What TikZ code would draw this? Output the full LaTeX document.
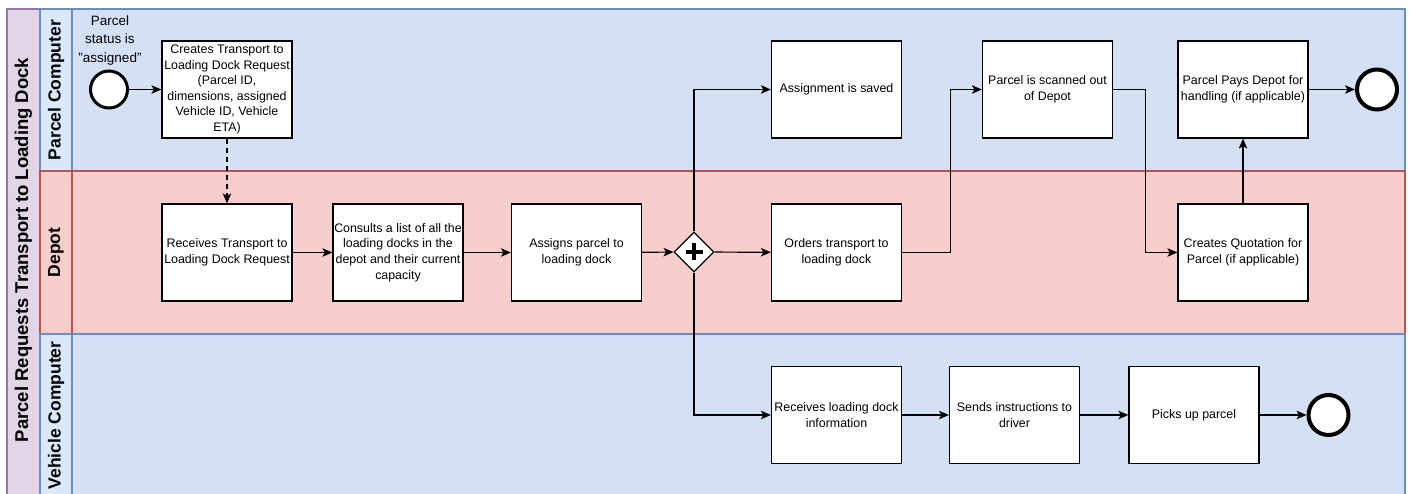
\documentclass[tikz,border=0pt]{standalone}
\usepackage{fontspec}
\setmainfont{Liberation Sans}
\usetikzlibrary{arrows.meta,shapes.geometric}

\definecolor{laneblue}{HTML}{D4E1F5}
\definecolor{laneblueH}{HTML}{DAE8FC}
\definecolor{bluestroke}{HTML}{6C8EBF}
\definecolor{lanered}{HTML}{F8CECC}
\definecolor{redstroke}{HTML}{B85450}
\definecolor{poolfill}{HTML}{E1D5E7}
\definecolor{poolstroke}{HTML}{9673A6}

\tikzset{
  task/.style={draw=black, fill=white, line width=1.2pt, minimum width=130pt,
    minimum height=97pt, inner sep=0pt, align=center,
    font=\fontsize{12.4}{15.6}\selectfont},
  flow/.style={line width=1.2pt, -{Stealth[length=10pt,width=8.5pt,inset=2.5pt]}},
  msgflow/.style={flow, dash pattern=on 5pt off 4pt},
  startev/.style={circle, draw=black, fill=white, line width=3pt, minimum size=37pt, inner sep=0pt},
  endev/.style={circle, draw=black, fill=white, line width=4pt, minimum size=40pt, inner sep=0pt},
  gate/.style={diamond, draw=black, fill=white, line width=1.2pt, minimum width=40pt,
    minimum height=40pt, inner sep=0pt, aspect=1},
  lanelabel/.style={rotate=90, font=\bfseries\fontsize{17.5}{20}\selectfont},
  pooltitle/.style={rotate=90, font=\bfseries\fontsize{18.5}{21}\selectfont},
}

\begin{document}
\begin{tikzpicture}[x=1pt, y=-1pt]
\useasboundingbox (0,0) rectangle (1409,494);
\clip (0,0) rectangle (1409,494);

% pool and lanes
\path[fill=poolfill, draw=poolstroke, line width=1.2pt] (7,9) rectangle (40,497);
\node[pooltitle] (pool) at (23.5,250) {Parcel Requests Transport to Loading Dock};

\path[fill=laneblue, draw=bluestroke, line width=1.2pt] (40,9) rectangle (1405,171);
\path[fill=laneblueH, draw=bluestroke, line width=1.2pt] (40,9) rectangle (72,171);
\path[fill=lanered, draw=redstroke, line width=1.2pt] (40,171) rectangle (1405,334);
\path[draw=redstroke, line width=1.2pt] (72,171) -- (72,334);
\path[fill=laneblue, draw=bluestroke, line width=1.2pt] (40,334) rectangle (1405,497);
\path[fill=laneblueH, draw=bluestroke, line width=1.2pt] (40,334) rectangle (72,497);

\node[lanelabel] (l1) at (56,90) {Parcel Computer};
\node[lanelabel] (l2) at (56,252.5) {Depot};
\node[lanelabel] (l3) at (56,415.5) {Vehicle Computer};

% events
\node[startev] (start) at (109,89.5) {};
\node[align=center, font=\fontsize{13.5}{18.5}\selectfont, inner sep=0pt] (startlbl) at (110,40.5)
  {Parcel\\status is\\"assigned"};
\node[endev] (end1) at (1377,89.5) {};
\node[endev] (end2) at (1328.5,415) {};

% tasks
\node[task] (t1) at (227,89.5) {Creates Transport to\\Loading Dock Request\\(Parcel ID,\\dimensions, assigned\\Vehicle ID, Vehicle\\ETA)};
\node[task] (t2) at (227,252.5) {Receives Transport to\\Loading Dock Request};
\node[task] (t3) at (398,252.5) {Consults a list of all the\\loading docks in the\\depot and their current\\capacity};
\node[task] (t4) at (576.5,252.5) {Assigns parcel to\\loading dock};
\node[gate] (gw) at (694,252) {};
\draw[line width=3.5pt] (gw.center) ++(-8.5,0) -- ++(17,0);
\draw[line width=3.5pt] (gw.center) ++(0,-8.5) -- ++(0,17);
\node[task] (saved) at (836.5,89.5) {Assignment is saved};
\node[task] (orders) at (836.5,252.5) {Orders transport to\\loading dock};
\node[task] (recv) at (836.5,415) {Receives loading dock\\information};
\node[task] (sends) at (1014.5,415) {Sends instructions to\\driver};
\node[task] (picks) at (1194,415) {Picks up parcel};
\node[task] (scan) at (1047.5,89.5) {Parcel is scanned out\\of Depot};
\node[task] (pays) at (1243,89.5) {Parcel Pays Depot for\\handling (if applicable)};
\node[task] (quote) at (1243,252.5) {Creates Quotation for\\Parcel (if applicable)};

% sequence flows
\draw[flow] (start) -- (t1);
\draw[msgflow] (t1) -- (t2);
\draw[flow] (t2) -- (t3);
\draw[flow] (t3) -- (t4);
\draw[flow] (t4) -- (gw);
\draw[flow] (gw) -- (orders);
\draw[flow] (gw.north) |- (saved.west);
\draw[flow] (gw.south) |- (recv.west);
\draw[flow] (orders.east) -- ++(48,0) |- (scan.west);
\draw[flow] (scan.east) -- ++(32,0) |- (quote.west);
\draw[flow] (quote) -- (pays);
\draw[flow] (pays) -- (end1);
\draw[flow] (recv) -- (sends);
\draw[flow] (sends) -- (picks);
\draw[flow] (picks) -- (end2);
\end{tikzpicture}
\end{document}
